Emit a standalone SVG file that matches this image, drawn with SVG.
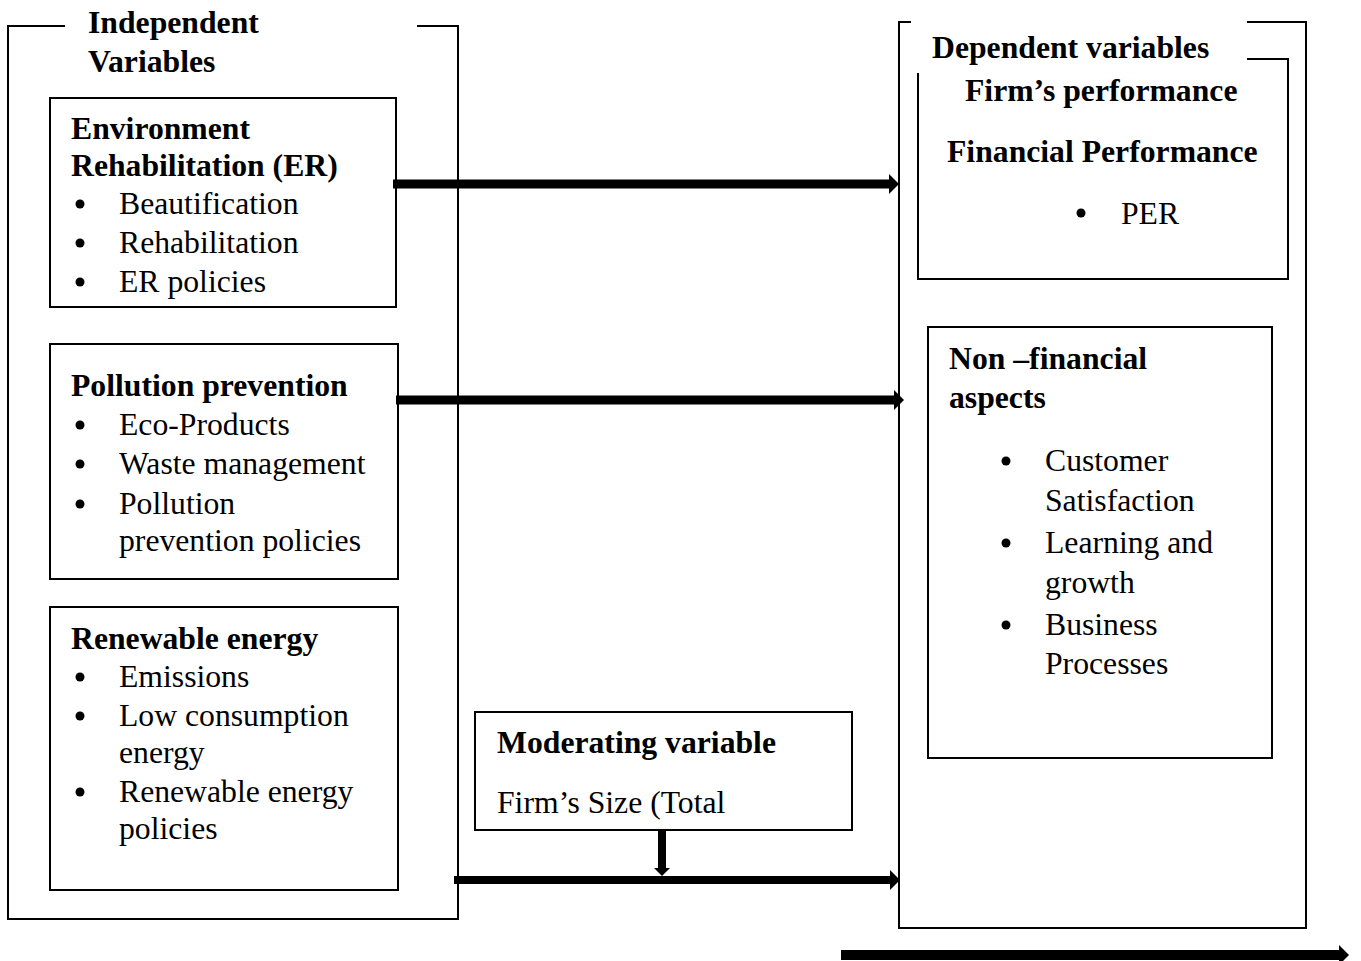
<svg xmlns="http://www.w3.org/2000/svg" width="1361" height="961" viewBox="0 0 1361 961">
<style>
  .t { font-family: "Liberation Serif", "Times New Roman", serif; font-size: 31.7px; fill: #000; }
  .b { font-weight: bold; }
  .frame { fill: none; stroke: #000; stroke-width: 2; }
  .box { fill: #fff; stroke: #000; stroke-width: 2; }
  .bar { stroke: #000; fill: none; }
</style>
<defs>
  <marker id="ah" viewBox="0 0 10 20" refX="0" refY="10" markerWidth="10" markerHeight="20" markerUnits="userSpaceOnUse" orient="auto">
    <path d="M0,0 L10,10 L0,20 Z" fill="#000"/>
  </marker>
  <marker id="ahs" viewBox="0 0 8 16" refX="0" refY="8" markerWidth="8" markerHeight="16" markerUnits="userSpaceOnUse" orient="auto">
    <path d="M0,0 L8,8 L0,16 Z" fill="#000"/>
  </marker>
</defs>
<rect width="1361" height="961" fill="#fff"/>

<g id="independent-frame">
  <path class="frame" d="M65,26 H8 V919 H458 V26 H417"/>
  <text class="t b" x="88" y="33">Independent</text>
  <text class="t b" x="88" y="72">Variables</text>
</g>

<g id="dependent-frame">
  <path class="frame" d="M911,22 H899 V928 H1306 V22 H1247"/>
  <text class="t b" x="932" y="58">Dependent variables</text>
</g>

<g id="firm-performance">
  <path class="frame" d="M1247,59 H1288 V279 H918 V73"/>
  <text class="t b" x="965" y="101">Firm’s performance</text>
  <text class="t b" x="947" y="162">Financial Performance</text>
  <circle cx="1081" cy="213" r="4.5"/>
  <text class="t" x="1121" y="224">PER</text>
</g>

<g id="environment-rehabilitation">
  <rect class="box" x="50" y="98" width="346" height="209"/>
  <text class="t b" x="71" y="139">Environment</text>
  <text class="t b" x="71" y="176">Rehabilitation (ER)</text>
  <circle cx="80" cy="204" r="4.5"/>
  <text class="t" x="119" y="214">Beautification</text>
  <circle cx="80" cy="243" r="4.5"/>
  <text class="t" x="119" y="253">Rehabilitation</text>
  <circle cx="80" cy="282" r="4.5"/>
  <text class="t" x="119" y="292">ER policies</text>
</g>

<g id="pollution-prevention">
  <rect class="box" x="50" y="344" width="348" height="235"/>
  <text class="t b" x="71" y="396">Pollution prevention</text>
  <circle cx="80" cy="425" r="4.5"/>
  <text class="t" x="119" y="435">Eco-Products</text>
  <circle cx="80" cy="464" r="4.5"/>
  <text class="t" x="119" y="474">Waste management</text>
  <circle cx="80" cy="504" r="4.5"/>
  <text class="t" x="119" y="514">Pollution</text>
  <text class="t" x="119" y="551">prevention policies</text>
</g>

<g id="renewable-energy">
  <rect class="box" x="50" y="607" width="348" height="283"/>
  <text class="t b" x="71" y="649">Renewable energy</text>
  <circle cx="80" cy="677" r="4.5"/>
  <text class="t" x="119" y="687">Emissions</text>
  <circle cx="80" cy="716" r="4.5"/>
  <text class="t" x="119" y="726">Low consumption</text>
  <text class="t" x="119" y="763">energy</text>
  <circle cx="80" cy="792" r="4.5"/>
  <text class="t" x="119" y="802">Renewable energy</text>
  <text class="t" x="119" y="839">policies</text>
</g>

<g id="moderating-variable">
  <rect class="box" x="475" y="712" width="377" height="118"/>
  <text class="t b" x="497" y="753">Moderating variable</text>
  <text class="t" x="497" y="813">Firm’s Size (Total</text>
</g>

<g id="non-financial">
  <rect class="box" x="928" y="327" width="344" height="431"/>
  <text class="t b" x="949" y="369">Non –financial</text>
  <text class="t b" x="949" y="408">aspects</text>
  <circle cx="1006" cy="461" r="4.5"/>
  <text class="t" x="1045" y="471">Customer</text>
  <text class="t" x="1045" y="511">Satisfaction</text>
  <circle cx="1006" cy="543" r="4.5"/>
  <text class="t" x="1045" y="553">Learning and</text>
  <text class="t" x="1045" y="593">growth</text>
  <circle cx="1006" cy="625" r="4.5"/>
  <text class="t" x="1045" y="635">Business</text>
  <text class="t" x="1045" y="674">Processes</text>
</g>

<g id="connectors">
  <line class="bar" x1="393" y1="184" x2="889" y2="184" stroke-width="9" marker-end="url(#ah)"/>
  <line class="bar" x1="396" y1="400" x2="894" y2="400" stroke-width="9" marker-end="url(#ah)"/>
  <line class="bar" x1="454" y1="880" x2="890" y2="880" stroke-width="8" marker-end="url(#ah)"/>
  <line class="bar" x1="662" y1="830" x2="662" y2="868" stroke-width="8" marker-end="url(#ahs)"/>
  <line class="bar" x1="841" y1="955" x2="1339" y2="955" stroke-width="10" marker-end="url(#ah)"/>
</g>
</svg>
